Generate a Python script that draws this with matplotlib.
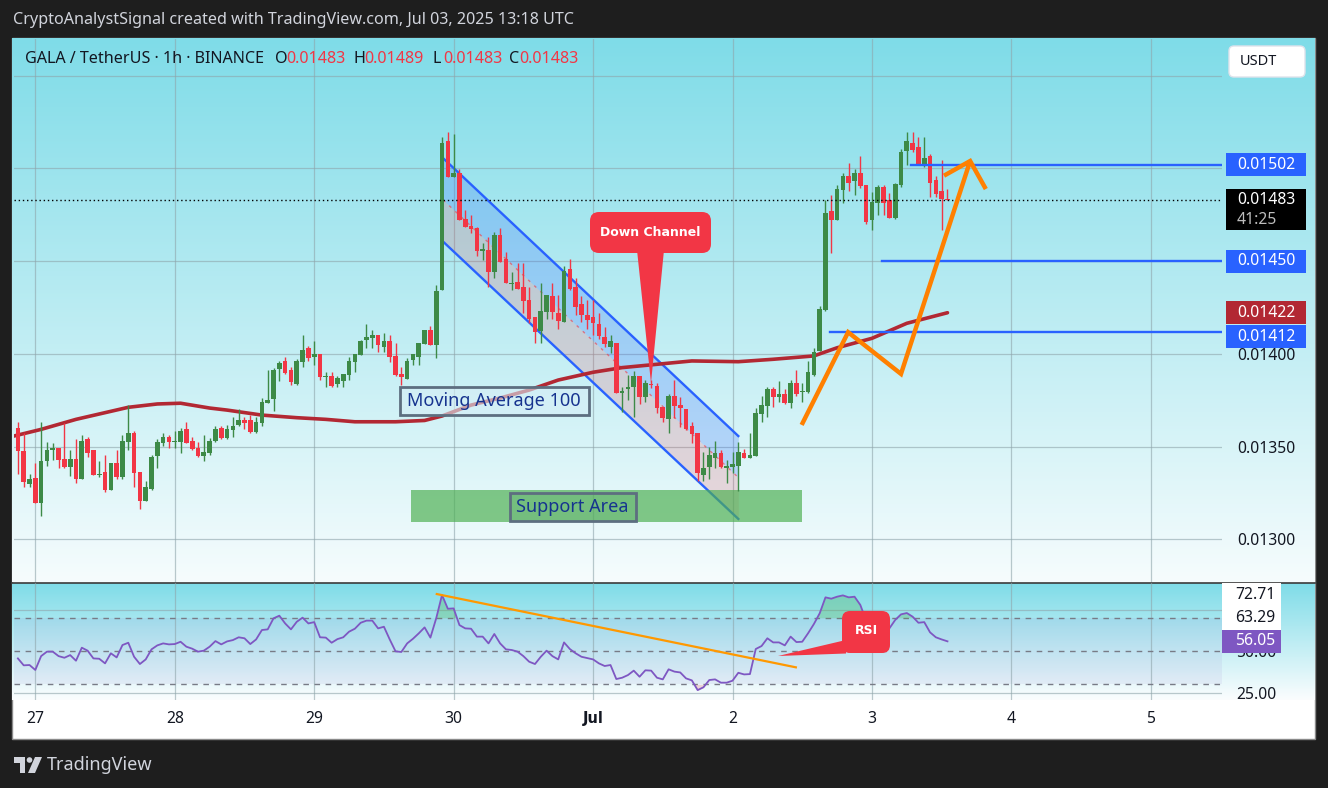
import matplotlib
matplotlib.use("Agg")
import matplotlib.pyplot as plt
from matplotlib.colors import to_rgb
from matplotlib.patches import Rectangle, FancyBboxPatch, Polygon, Circle
import numpy as np
import pandas as pd

plt.rcParams['font.family'] = ['Noto Sans', 'DejaVu Sans']

W, H = 1328, 788

# GALA/USDT 1h candles, 26 Jun 21:00 -> 3 Jul 13:00
start = "2025-06-26 21:00"
opens = [
    0.013599, 0.013478, 0.013300, 0.013331, 0.013197, 0.013422, 0.013482, 0.013490, 0.013433, 0.013392,
    0.013433, 0.013327, 0.013541, 0.013482, 0.013347, 0.013363, 0.013268, 0.013412, 0.013336, 0.013526,
    0.013573, 0.013363, 0.013208, 0.013273, 0.013449, 0.013519, 0.013552, 0.013525, 0.013525, 0.013595,
    0.013530, 0.013492, 0.013449, 0.013465, 0.013530, 0.013602, 0.013548, 0.013590, 0.013616, 0.013643,
    0.013643, 0.013580, 0.013629, 0.013737, 0.013758, 0.013920, 0.013962, 0.013913, 0.013838, 0.013958,
    0.014032, 0.013985, 0.013999, 0.013875, 0.013881, 0.013839, 0.013855, 0.013888, 0.013958, 0.013996,
    0.014077, 0.014087, 0.014102, 0.014037, 0.014070, 0.013989, 0.013892, 0.013865, 0.013967, 0.013985,
    0.014053, 0.014129, 0.014048, 0.014345, 0.015148, 0.014956, 0.014974, 0.014728, 0.014690, 0.014681,
    0.014557, 0.014560, 0.014443, 0.014641, 0.014510, 0.014377, 0.014386, 0.014359, 0.014291, 0.014197,
    0.014125, 0.014228, 0.014312, 0.014219, 0.014170, 0.014456, 0.014362, 0.014269, 0.014210, 0.014197,
    0.014161, 0.014090, 0.014039, 0.014057, 0.013787, 0.013809, 0.013820, 0.013881, 0.013769, 0.013832,
    0.013828, 0.013715, 0.013649, 0.013773, 0.013724, 0.013703, 0.013611, 0.013575, 0.013347, 0.013392,
    0.013440, 0.013467, 0.013383, 0.013392, 0.013397, 0.013467, 0.013440, 0.013449, 0.013676, 0.013719,
    0.013809, 0.013769, 0.013784, 0.013737, 0.013841, 0.013797, 0.013796, 0.013886, 0.014017, 0.014237,
    0.014771, 0.014722, 0.014884, 0.014960, 0.014934, 0.014977, 0.014911, 0.014722, 0.014816, 0.014902,
    0.014830, 0.014731, 0.014911, 0.015094, 0.015136, 0.015114, 0.015019, 0.015067, 0.014938, 0.014880,
    0.014830]
highs = [
    0.013631, 0.013572, 0.013352, 0.013410, 0.013631, 0.013525, 0.013518, 0.013492, 0.013626, 0.013482,
    0.013539, 0.013563, 0.013553, 0.013482, 0.013422, 0.013455, 0.013412, 0.013482, 0.013563, 0.013724,
    0.013584, 0.013363, 0.013314, 0.013455, 0.013541, 0.013573, 0.013563, 0.013584, 0.013600, 0.013633,
    0.013552, 0.013525, 0.013563, 0.013546, 0.013609, 0.013611, 0.013616, 0.013661, 0.013704, 0.013661,
    0.013670, 0.013660, 0.013760, 0.013913, 0.013924, 0.013962, 0.013983, 0.013929, 0.013972, 0.014102,
    0.014043, 0.014070, 0.013999, 0.013902, 0.013902, 0.013881, 0.013892, 0.013983, 0.013999, 0.014075,
    0.014161, 0.014129, 0.014102, 0.014113, 0.014102, 0.014060, 0.013931, 0.013976, 0.013999, 0.014060,
    0.014129, 0.014150, 0.014372, 0.015172, 0.015195, 0.015184, 0.014996, 0.014776, 0.014748, 0.014686,
    0.014597, 0.014629, 0.014656, 0.014677, 0.014551, 0.014443, 0.014489, 0.014489, 0.014362, 0.014197,
    0.014381, 0.014318, 0.014381, 0.014318, 0.014476, 0.014510, 0.014408, 0.014312, 0.014291, 0.014291,
    0.014219, 0.014143, 0.014102, 0.014057, 0.013823, 0.013886, 0.013908, 0.013881, 0.013859, 0.013859,
    0.013841, 0.013715, 0.013784, 0.013859, 0.013769, 0.013703, 0.013634, 0.013575, 0.013469, 0.013500,
    0.013530, 0.013482, 0.013428, 0.013472, 0.013526, 0.013485, 0.013575, 0.013707, 0.013773, 0.013823,
    0.013823, 0.013854, 0.013809, 0.013859, 0.013913, 0.013841, 0.013963, 0.014030, 0.014258, 0.014830,
    0.014857, 0.014911, 0.014977, 0.015028, 0.014996, 0.015067, 0.014911, 0.014875, 0.014911, 0.014911,
    0.014870, 0.014923, 0.015104, 0.015195, 0.015195, 0.015168, 0.015168, 0.015078, 0.014960, 0.015046,
    0.014890]
lows = [
    0.013352, 0.013284, 0.013284, 0.013197, 0.013127, 0.013397, 0.013428, 0.013386, 0.013386, 0.013341,
    0.013305, 0.013327, 0.013446, 0.013348, 0.013338, 0.013257, 0.013268, 0.013325, 0.013325, 0.013482,
    0.013282, 0.013165, 0.013208, 0.013268, 0.013385, 0.013503, 0.013492, 0.013492, 0.013465, 0.013519,
    0.013482, 0.013444, 0.013422, 0.013455, 0.013525, 0.013539, 0.013541, 0.013553, 0.013611, 0.013597,
    0.013575, 0.013575, 0.013611, 0.013737, 0.013694, 0.013855, 0.013892, 0.013834, 0.013834, 0.013931,
    0.013962, 0.013942, 0.013861, 0.013823, 0.013823, 0.013823, 0.013823, 0.013859, 0.013904, 0.013996,
    0.014032, 0.014032, 0.014012, 0.014012, 0.013958, 0.013881, 0.013832, 0.013865, 0.013940, 0.013940,
    0.014053, 0.014048, 0.013976, 0.014345, 0.014956, 0.014956, 0.014722, 0.014686, 0.014650, 0.014528,
    0.014506, 0.014362, 0.014411, 0.014497, 0.014381, 0.014345, 0.014348, 0.014222, 0.014165, 0.014057,
    0.014057, 0.014187, 0.014187, 0.014133, 0.014170, 0.014345, 0.014210, 0.014174, 0.014133, 0.014102,
    0.014080, 0.014039, 0.014003, 0.013787, 0.013685, 0.013751, 0.013658, 0.013730, 0.013742, 0.013814,
    0.013683, 0.013634, 0.013575, 0.013653, 0.013607, 0.013590, 0.013518, 0.013316, 0.013316, 0.013325,
    0.013386, 0.013383, 0.013305, 0.013356, 0.013262, 0.013440, 0.013440, 0.013449, 0.013634, 0.013661,
    0.013715, 0.013742, 0.013730, 0.013707, 0.013773, 0.013742, 0.013791, 0.013881, 0.014017, 0.014233,
    0.014543, 0.014722, 0.014812, 0.014880, 0.014857, 0.014893, 0.014701, 0.014668, 0.014749, 0.014749,
    0.014732, 0.014728, 0.014902, 0.015019, 0.015091, 0.015019, 0.015010, 0.014848, 0.014848, 0.014668,
    0.014830]
closes = [
    0.013478, 0.013311, 0.013325, 0.013197, 0.013422, 0.013482, 0.013492, 0.013429, 0.013392, 0.013433,
    0.013327, 0.013530, 0.013467, 0.013348, 0.013352, 0.013268, 0.013412, 0.013336, 0.013530, 0.013573,
    0.013359, 0.013208, 0.013282, 0.013444, 0.013525, 0.013552, 0.013525, 0.013530, 0.013584, 0.013519,
    0.013487, 0.013449, 0.013471, 0.013530, 0.013597, 0.013548, 0.013593, 0.013611, 0.013643, 0.013629,
    0.013580, 0.013633, 0.013741, 0.013751, 0.013913, 0.013951, 0.013897, 0.013850, 0.013962, 0.014021,
    0.013980, 0.013999, 0.013875, 0.013881, 0.013828, 0.013870, 0.013892, 0.013962, 0.013999, 0.014070,
    0.014091, 0.014102, 0.014050, 0.014070, 0.013985, 0.013886, 0.013877, 0.013962, 0.013999, 0.014060,
    0.014129, 0.014048, 0.014339, 0.015136, 0.014956, 0.014974, 0.014722, 0.014686, 0.014674, 0.014555,
    0.014564, 0.014443, 0.014641, 0.014497, 0.014381, 0.014384, 0.014348, 0.014287, 0.014187, 0.014116,
    0.014231, 0.014318, 0.014228, 0.014177, 0.014447, 0.014348, 0.014255, 0.014208, 0.014183, 0.014168,
    0.014098, 0.014052, 0.014070, 0.013787, 0.013800, 0.013823, 0.013881, 0.013769, 0.013845, 0.013830,
    0.013710, 0.013656, 0.013773, 0.013721, 0.013710, 0.013595, 0.013568, 0.013359, 0.013386, 0.013455,
    0.013467, 0.013388, 0.013397, 0.013405, 0.013472, 0.013440, 0.013455, 0.013683, 0.013724, 0.013809,
    0.013769, 0.013784, 0.013737, 0.013841, 0.013784, 0.013800, 0.013901, 0.014009, 0.014241, 0.014758,
    0.014722, 0.014889, 0.014960, 0.014923, 0.014977, 0.014907, 0.014713, 0.014818, 0.014902, 0.014816,
    0.014735, 0.014916, 0.015091, 0.015148, 0.015100, 0.015023, 0.015055, 0.014923, 0.014862, 0.014834,
    0.014830]
rsi = [
    45.7, 41.5, 41.7, 38.7, 47.1, 49.8, 49.8, 47.1, 46.1, 47.7,
    44.3, 52.2, 50.4, 45.7, 45.5, 42.7, 48.8, 46.3, 53.8, 55.2,
    46.7, 42.3, 45.1, 51.2, 53.6, 54.8, 54.2, 54.4, 55.8, 52.8,
    51.6, 49.8, 50.4, 52.8, 56.2, 54.2, 56.0, 56.8, 58.5, 57.9,
    54.4, 57.2, 62.9, 63.3, 70.0, 71.6, 66.9, 63.3, 67.9, 70.4,
    66.9, 67.7, 58.5, 58.3, 55.2, 57.4, 58.5, 61.9, 63.7, 67.3,
    68.6, 68.6, 63.9, 64.9, 57.2, 50.0, 49.6, 54.8, 57.6, 60.9,
    64.5, 58.3, 70.0, 84.1, 75.8, 76.0, 65.9, 63.9, 63.7, 58.9,
    58.9, 54.8, 60.5, 54.8, 51.2, 50.8, 49.8, 47.1, 43.7, 42.3,
    46.7, 50.4, 47.1, 45.1, 55.4, 51.4, 48.8, 46.7, 45.9, 45.1,
    42.7, 41.1, 41.7, 33.2, 34.0, 35.6, 38.3, 34.6, 38.5, 38.3,
    34.0, 33.0, 39.1, 37.7, 37.2, 33.6, 32.4, 26.5, 28.2, 32.6,
    33.0, 31.0, 31.0, 32.2, 37.0, 36.0, 36.2, 51.4, 53.2, 57.9,
    55.4, 55.4, 53.6, 58.9, 55.6, 55.8, 60.9, 66.5, 73.0, 82.7,
    81.9, 83.1, 83.9, 82.7, 83.1, 78.1, 68.6, 70.6, 71.8, 68.0,
    63.9, 69.0, 72.4, 73.2, 71.0, 67.3, 67.7, 61.5, 58.5, 57.2,
    56.05]

# 100-period moving average, sampled along the drawn line (hours since 27 Jun 00:00)
ma_hours = [-3.7, 1, 7, 16, 21, 25, 30, 33, 39, 45, 50, 55, 62, 67, 70,
            75, 80, 85, 90, 96, 101, 107, 113, 121, 127, 134, 138, 144, 150, 157]
ma_values = [0.013557, 0.013593, 0.013647, 0.013712, 0.013730, 0.013734, 0.013708, 0.013697,
             0.013670, 0.013656, 0.013647, 0.013634, 0.013634, 0.013641, 0.013665, 0.013724,
             0.013762, 0.013805, 0.013859, 0.013901, 0.013926, 0.013944, 0.013962, 0.013958,
             0.013971, 0.013989, 0.014033, 0.014084, 0.014165, 0.014222]

day_hours = [0, 24, 48, 72, 96, 120, 144, 168, 192]
day_labels = ['27', '28', '29', '30', 'Jul', '2', '3', '4', '5']
price_grid = [0.0130, 0.0135, 0.0140, 0.0145, 0.0150, 0.0155]
price_ticks = [0.0130, 0.0135, 0.0140]

# drawings
levels = [0.01502, 0.01450, 0.01412]
level_starts = [150.7, 145.8, 136.8]
chan_hours = [70.2, 121.0]
chan_upper = [0.015055, 0.013557]
chan_lower = [0.014605, 0.013110]
support_hours = [64.7, 131.9]
support_range = [0.013093, 0.013266]
zz_hours = [131.9, 139.9, 149.0, 160.9]
zz_prices = [0.013617, 0.014117, 0.013892, 0.015040]
wing_hours = [156.4, 163.6]
wing_prices = [0.014961, 0.014889]
rsi_trend_hours = [69.1, 130.9]
rsi_trend_vals = [84.7, 40.3]

times = pd.date_range(start, periods=len(opens), freq="h")
hours = ((times - pd.Timestamp("2025-06-27")) / pd.Timedelta(hours=1)).values
o, h, l, c = map(np.array, (opens, highs, lows, closes))
rsi = np.array(rsi)

UP, DOWN = '#3d8a47', '#f23645'
GRID = '#8fa5ab'
TXT = '#131722'
BOLD = ['DejaVu Sans']

fig = plt.figure(figsize=(W / 100, H / 100), dpi=100, facecolor='#1e1e1e')

# background / frame in pixel coords
bg = fig.add_axes([0, 0, 1, 1])
bg.axis('off')


def gradient(axis, x0, x1, y0, y1, c0, c1):
    t = np.linspace(0, 1, 256)[:, None, None]
    a, b = np.array(to_rgb(c0)), np.array(to_rgb(c1))
    axis.imshow(a + (b - a) * t, extent=(x0, x1, y1, y0), origin='upper',
                aspect='auto', zorder=1, interpolation='bilinear')


bg.add_patch(Rectangle((12, 38), 1303, 701, fc='white', ec='#8a8a8a', lw=1, zorder=0))
gradient(bg, 12, 1315, 38, 582, '#7fdce8', '#f6fcfd')
gradient(bg, 12, 1315, 583, 700, '#7fdce8', '#fbfdfe')
bg.plot([12, 1315], [582.5, 582.5], color='#3a3a3a', lw=1.2, zorder=2)
bg.set_xlim(0, W)
bg.set_ylim(H, 0)

bg.text(13, 20, 'CryptoAnalystSignal created with TradingView.com, Jul 03, 2025 13:18 UTC',
        color='#d1d4dc', fontsize=11.6, va='center')
# TradingView logo
bg.add_patch(Polygon([(14, 757), (25, 757), (25, 773), (20, 773), (20, 763), (14, 763)],
                     fc='#d1d4dc', ec='none', zorder=3))
bg.add_patch(Circle((29.5, 760), 2.8, fc='#d1d4dc', ec='none', zorder=3))
bg.add_patch(Polygon([(35, 757), (42, 757), (35, 773), (28, 773)], fc='#d1d4dc', ec='none', zorder=3))
bg.text(47, 765, 'TradingView', color='#d1d4dc', fontsize=13, va='center')

L, R = 14, 1222
ax = fig.add_axes([L / W, 1 - 582 / H, (R - L) / W, (582 - 39) / H], zorder=2)
rax = fig.add_axes([L / W, 1 - 700 / H, (R - L) / W, (700 - 583) / H], zorder=2)
for a in (ax, rax):
    a.patch.set_alpha(0)
    for s in a.spines.values():
        s.set_visible(False)
    a.set_xlim(-3.67, 204.25)
ax.set_ylim(0.012770, 0.015698)
rax.set_ylim(20.5, 91.4)

# grid
for g in price_grid:
    ax.axhline(g, color=GRID, lw=0.9, alpha=0.6, zorder=0.5)
for d in day_hours:
    ax.axvline(d, color=GRID, lw=0.9, alpha=0.6, zorder=0.5)
    rax.axvline(d, color=GRID, lw=0.9, alpha=0.6, zorder=0.5)
for g in (75, 25):
    rax.axhline(g, color=GRID, lw=0.9, alpha=0.6, zorder=0.5)

# channel
cu, cl = np.array(chan_upper), np.array(chan_lower)
cm = (cu + cl) / 2
ax.fill_between(chan_hours, cm, cu, color='#2962ff', alpha=0.22, lw=0, zorder=1)
ax.fill_between(chan_hours, cl, cm, color='#f23645', alpha=0.17, lw=0, zorder=1)
ax.plot(chan_hours, cu, color='#2962ff', lw=1.7, zorder=2)
ax.plot(chan_hours, cl, color='#2962ff', lw=1.7, zorder=2)
ax.plot(chan_hours, cm, color='#f23645', lw=1, ls=(0, (2, 4)), alpha=0.6, zorder=2)

# support zone
ax.add_patch(Rectangle((support_hours[0], support_range[0]), support_hours[1] - support_hours[0],
                       support_range[1] - support_range[0], fc='#4caf50', alpha=0.68, lw=0, zorder=2.5))

# MA 100
ax.plot(ma_hours, ma_values, color='#b22833', lw=2.6, zorder=2.8, solid_capstyle='round')

# candles
cols = np.where(c > o, UP, DOWN)
ax.vlines(hours, l, h, colors=cols, lw=1.0, zorder=3)
body = np.maximum(np.abs(c - o), 0.0000055)
ax.bar(hours, body, bottom=np.minimum(o, c), width=0.8, color=cols, lw=0, zorder=4)

# last price dotted line
ax.axhline(c[-1], color='black', lw=1, ls=(0, (1, 2)), zorder=4.5)

# levels
for lev, st in zip(levels, level_starts):
    ax.plot([st, 204.25], [lev, lev], color='#2962ff', lw=1.7, zorder=5)

# orange projection
ax.plot(zz_hours, zz_prices, color='#ff8000', lw=3.2, zorder=6, solid_capstyle='butt',
        solid_joinstyle='miter')
ax.plot([wing_hours[0], zz_hours[-1], wing_hours[1]], [wing_prices[0], zz_prices[-1], wing_prices[1]],
        color='#ff8000', lw=3.2, zorder=6, solid_capstyle='butt', solid_joinstyle='miter')

# axes ticks
ax.yaxis.tick_right()
ax.set_yticks(price_ticks)
ax.set_yticklabels([f'{v:.5f}' for v in price_ticks])
ax.tick_params(axis='y', length=0, pad=11, labelsize=11.3, labelcolor=TXT)
ax.set_xticks([])

# RSI pane
rax.axhspan(30, 70, color='#7e57c2', alpha=0.08, lw=0, zorder=0.3)
for g in (70, 50, 30):
    rax.axhline(g, color='#787b86', lw=1, ls=(0, (4, 4)), zorder=1)
rax.fill_between(hours, 70, rsi, where=rsi >= 70, interpolate=True, color='#4caf50', alpha=0.3,
                 lw=0, zorder=1.5)
rax.fill_between(hours, 30, rsi, where=rsi <= 30, interpolate=True, color='#f23645', alpha=0.2,
                 lw=0, zorder=1.5)
rax.plot(hours, rsi, color='#7e57c2', lw=1.3, zorder=3)
rax.plot(rsi_trend_hours, rsi_trend_vals, color='#ff9800', lw=1.6, zorder=4)
rax.yaxis.tick_right()
rax.set_yticks([25, 50])
rax.set_yticklabels(['25.00', '50.00'])
rax.tick_params(axis='y', length=0, pad=10, labelsize=11.3, labelcolor=TXT)
rax.set_xticks(day_hours)
rax.set_xticklabels(day_labels)
rax.tick_params(axis='x', length=0, pad=8, labelsize=11.3, labelcolor=TXT)
for lab in rax.get_xticklabels():
    if lab.get_text() == 'Jul':
        lab.set_fontweight('bold')
        lab.set_family(BOLD)
        lab.set_fontsize(10.5)

# overlay for labels in pixel coords
ov = fig.add_axes([0, 0, 1, 1], zorder=10)
ov.axis('off')
ov.set_xlim(0, W)
ov.set_ylim(H, 0)


def ypx(axis, v):
    return H - axis.transData.transform((0, v))[1]


def tag(y, text, fc, x0=1225.5, x1=1305.6, hh=23, tc='white'):
    ov.add_patch(Rectangle((x0, y - hh / 2), x1 - x0, hh, fc=fc, ec='none'))
    ov.text(1237, y, text, color=tc, fontsize=11.3, va='center', ha='left')


tag(ypx(ax, 0.01502), '0.01502', '#2962ff')
tag(ypx(ax, 0.01450), '0.01450', '#2962ff')
tag(ypx(ax, ma_values[-1]), f'{ma_values[-1]:.5f}', '#b22833')
tag(ypx(ax, 0.01412) + 5, '0.01412', '#2962ff')
yb = ypx(ax, c[-1])
ov.add_patch(Rectangle((1225.5, yb - 11), 80, 41.5, fc='black', ec='none'))
ov.text(1237, yb, f'{c[-1]:.5f}', color='white', fontsize=11.3, va='center')
ov.text(1237, yb + 20, '41:25', color='#bdbdbd', fontsize=11.3, va='center')

# USDT box
ov.add_patch(FancyBboxPatch((1229, 46), 76, 31, boxstyle='round,pad=0,rounding_size=5',
                            fc='white', ec='#e0e3eb', lw=1))
ov.text(1240, 61.5, 'USDT', color=TXT, fontsize=10.5, va='center')

# RSI labels
ov.add_patch(Rectangle((1222, 583), 59, 47, fc='white', ec='none'))
ov.text(1235, 595, '72.71', color=TXT, fontsize=11.3, va='center')
ov.text(1235, 618, '63.29', color=TXT, fontsize=11.3, va='center')
yr = ypx(rax, rsi[-1])
ov.add_patch(Rectangle((1222, yr - 11.5), 59, 23, fc='#7e57c2', ec='none'))
ov.text(1235, yr, f'{rsi[-1]:.2f}', color='white', fontsize=11.3, va='center')

# legend
ov.text(25, 59, 'GALA / TetherUS · 1h · BINANCE', color=TXT, fontsize=11.6, va='center')
for letter, val, x in zip('OHLC', (o[-1], h[-1], l[-1], c[-1]), (275, 353.5, 432, 508.5)):
    ov.text(x, 59, letter, color=TXT, fontsize=11.6, va='center')
    ov.text(x + 11, 59, f'{val:.5f}', color=DOWN, fontsize=11.6, va='center')

# Down Channel callout
ov.add_patch(FancyBboxPatch((590, 212), 121, 41, boxstyle='round,pad=0,rounding_size=9',
                            fc='#f23645', ec='none'))
ov.add_patch(Polygon([(637, 250), (664, 250), (651, 383)], fc='#f23645', ec='none'))
ov.text(650.5, 232.5, 'Down Channel', color='white', fontsize=9, fontweight='bold', family=BOLD,
        ha='center', va='center')

# RSI callout
ov.add_patch(FancyBboxPatch((842, 611), 48, 42, boxstyle='round,pad=0,rounding_size=8',
                            fc='#f23645', ec='none'))
ov.add_patch(Polygon([(846, 640), (846, 653.5), (778, 656)], fc='#f23645', ec='none'))
ov.text(866, 631, 'RSI', color='white', fontsize=9, fontweight='bold', family=BOLD,
        ha='center', va='center')

# Moving Average label
ov.add_patch(Rectangle((399.5, 386.5), 189, 28.5, fc='#d6eef6', alpha=0.6, ec='none'))
ov.add_patch(Rectangle((399.5, 386.5), 189, 28.5, fc='none', ec='#5d6e80', lw=2))
ov.text(494, 401, 'Moving Average 100', color='#16338f', fontsize=13, ha='center', va='center')

# Support Area label
ov.add_patch(Rectangle((509.5, 493), 126.5, 28, fc='#5aa867', alpha=0.25, ec='none'))
ov.add_patch(Rectangle((509.5, 493), 126.5, 28, fc='none', ec='#5d6e80', lw=2))
ov.text(572.7, 507, 'Support Area', color='#16338f', fontsize=13, ha='center', va='center')

fig.savefig('out.png', dpi=100, facecolor=fig.get_facecolor())
